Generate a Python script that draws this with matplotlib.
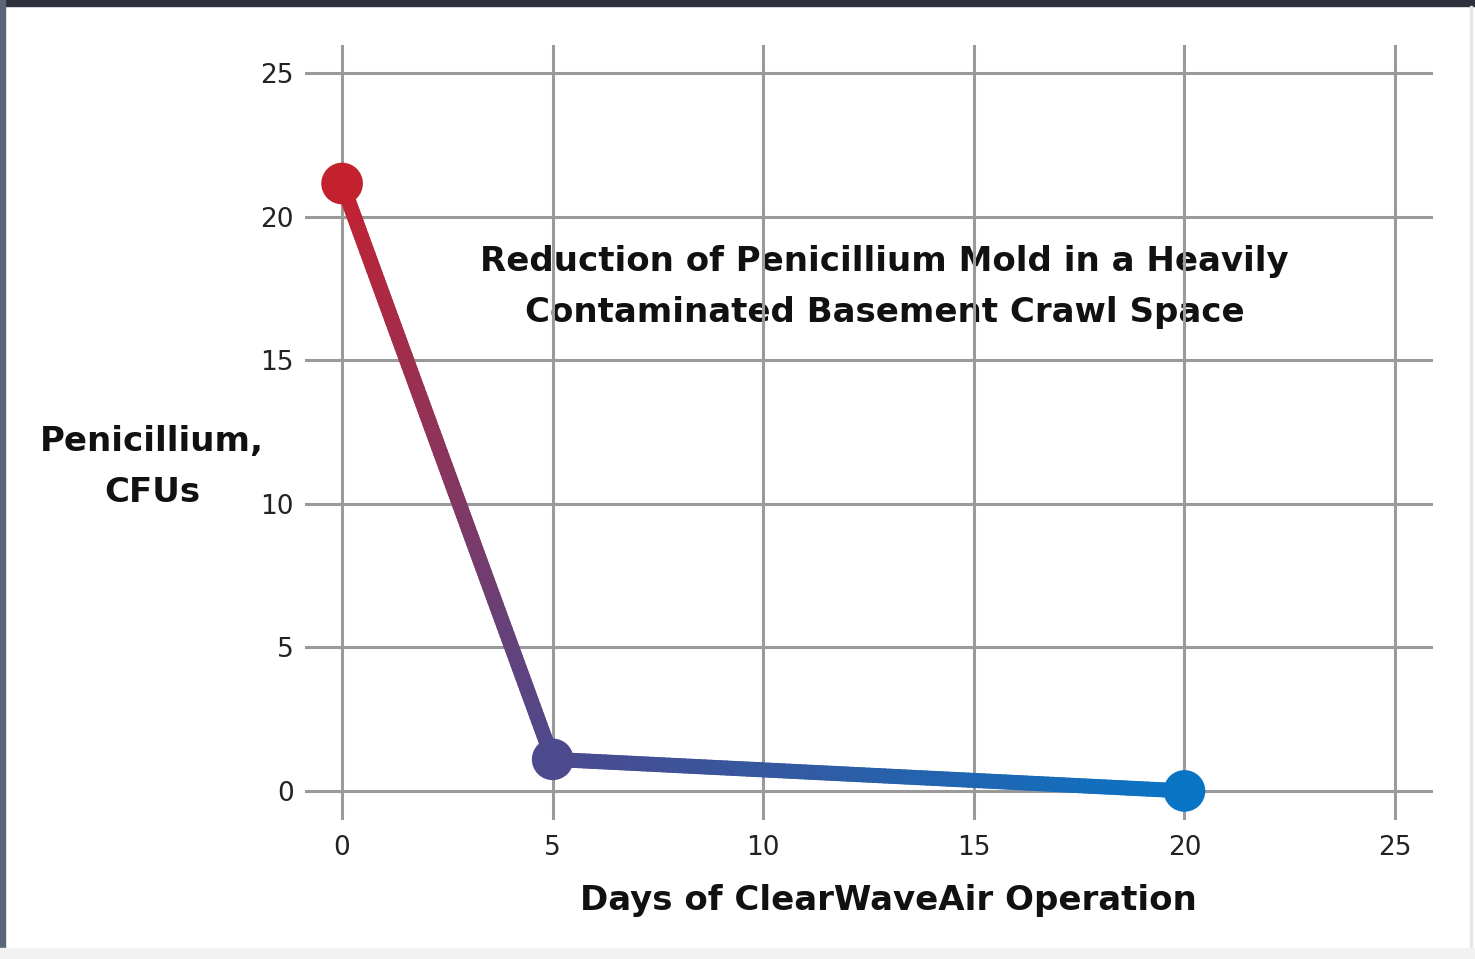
import numpy as np
import matplotlib
matplotlib.use("Agg")
import matplotlib.pyplot as plt
from matplotlib.collections import LineCollection
from matplotlib.colors import LinearSegmentedColormap
from matplotlib.patches import Rectangle

# data
days = [0, 5, 20]
cfus = [21.15, 1.1, 0.0]
ticks = [0, 5, 10, 15, 20, 25]

title = "Reduction of Penicillium Mold in a Heavily\nContaminated Basement Crawl Space"
xlabel = "Days of ClearWaveAir Operation"
ylabel = "Penicillium,\nCFUs"

red = "#c4212f"
blue = "#0a74c4"
grad = LinearSegmentedColormap.from_list("redblue", [red, "#4b4a8e", blue])

fig = plt.figure(figsize=(14.75, 9.59), dpi=100)
ax = fig.add_axes([0.2068, 0.145, 0.7647, 0.808])
ax.set_xlim(-0.88, 25.9)
ax.set_ylim(-1.01, 25.97)
for s in ax.spines.values():
    s.set_visible(False)
ax.set_xticks(ticks)
ax.set_yticks(ticks)
ax.tick_params(length=0, labelsize=19, labelcolor="#222222")
ax.tick_params(axis="x", pad=11)
ax.tick_params(axis="y", pad=8)
ax.set_axisbelow(False)
ax.grid(True, color="#9a9a9a", lw=2.2, zorder=2.5)

# stroke the line with a colour gradient along its length
fig.canvas.draw()
pts = ax.transData.transform(np.column_stack([days, cfus]))
seglen = np.hypot(*np.diff(pts, axis=0).T)
cum = np.concatenate([[0], np.cumsum(seglen)]) / seglen.sum()
segs, cols = [], []
n = 120
for i in range(len(days) - 1):
    t = np.linspace(0, 1, n + 1)
    xs = days[i] + t * (days[i + 1] - days[i])
    ys = cfus[i] + t * (cfus[i + 1] - cfus[i])
    p = np.column_stack([xs, ys])
    segs += [p[j:j + 2] for j in range(n)]
    f = cum[i] + (t[:-1] + 0.5 / n) * (cum[i + 1] - cum[i])
    cols += list(grad(f))
lc = LineCollection(segs, colors=cols, linewidths=10.8, capstyle="round", zorder=3)
ax.add_collection(lc)
ax.scatter(days, cfus, s=30 ** 2, c=grad(cum), zorder=4, linewidths=0)

ax.text(12.88, 17.55, title, ha="center", va="center", fontsize=24.5,
        fontweight="bold", color="#111111", linespacing=1.71, zorder=1)
fig.text(0.602, 0.061, xlabel, ha="center", va="center", fontsize=24.5,
         fontweight="bold", color="#111111")
fig.text(0.103, 0.513, ylabel, ha="center", va="center", fontsize=24.5,
         fontweight="bold", color="#111111", linespacing=1.71)

# dark frame around the screenshot
fig.patches.append(Rectangle((0, 0.994), 1, 0.006, transform=fig.transFigure,
                             color="#2c313b", zorder=0))
fig.patches.append(Rectangle((0, 0), 0.0034, 1, transform=fig.transFigure,
                             color="#5c667a", zorder=0))
fig.patches.append(Rectangle((0.9966, 0), 0.0014, 0.994, transform=fig.transFigure,
                             color="#e6e6e6", zorder=0))
fig.patches.append(Rectangle((0, 0), 1, 0.011, transform=fig.transFigure,
                             color="#f2f2f2", zorder=0))

fig.savefig("out.png", dpi=100)
